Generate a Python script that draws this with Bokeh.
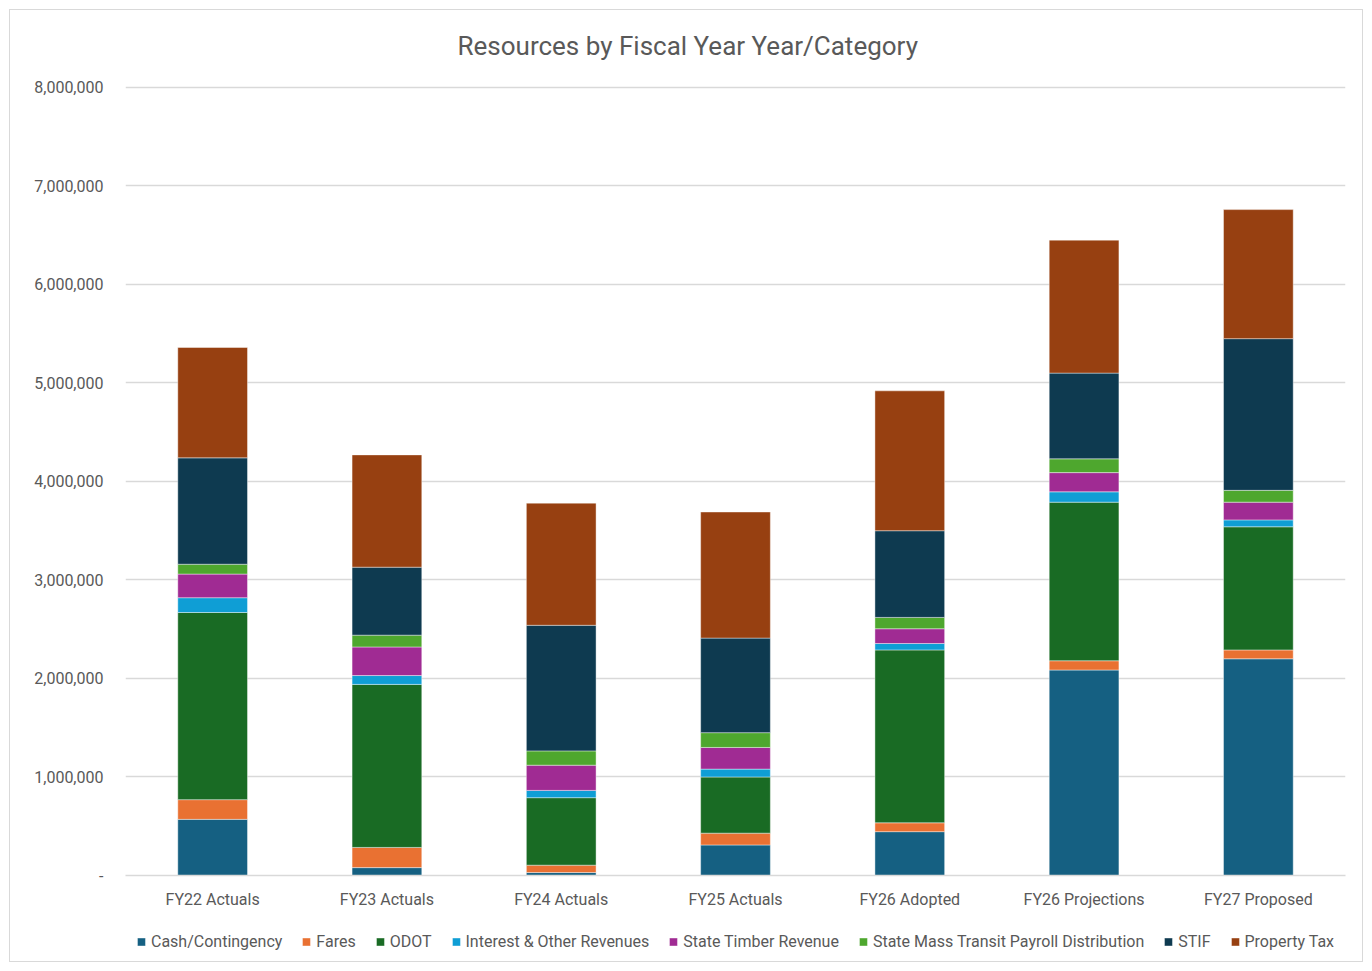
from bokeh.plotting import figure
from bokeh.layouts import column
from bokeh.models import ColumnDataSource, FactorRange, Range1d, Legend, LegendItem, FixedTicker, NumeralTickFormatter
from bokeh.embed import file_html
from bokeh.resources import INLINE

categories = ["FY22 Actuals", "FY23 Actuals", "FY24 Actuals", "FY25 Actuals",
              "FY26 Adopted", "FY26 Projections", "FY27 Proposed"]
cash = [570000, 80000, 30000, 310000, 445000, 2086000, 2200000]
fares = [200000, 205000, 75000, 120000, 90000, 94000, 90000]
odot = [1900000, 1655000, 685000, 570000, 1755000, 1610000, 1250000]
interest = [150000, 90000, 74000, 80000, 65000, 105000, 70000]
timber = [240000, 290000, 256000, 220000, 150000, 195000, 180000]
smtpd = [100000, 120000, 145000, 150000, 115000, 140000, 120000]
stif = [1080000, 690000, 1275000, 960000, 880000, 870000, 1540000]
ptax = [1120000, 1140000, 1240000, 1280000, 1420000, 1350000, 1310000]

series_keys = ["cash", "fares", "odot", "interest", "timber", "smtpd", "stif", "ptax"]
series_labels = ["Cash/Contingency", "Fares", "ODOT", "Interest & Other Revenues",
                 "State Timber Revenue", "State Mass Transit Payroll Distribution",
                 "STIF", "Property Tax"]
colors = ["#156082", "#E97132", "#196B24", "#0F9ED5", "#A02B93", "#4EA72E", "#0E3A50", "#974011"]

source = ColumnDataSource(dict(x=categories, cash=cash, fares=fares, odot=odot, interest=interest,
                               timber=timber, smtpd=smtpd, stif=stif, ptax=ptax))

TXT = "#595959"
FONT = "Roboto"

p = figure(x_range=FactorRange(*categories), y_range=Range1d(0, 8030000),
           frame_width=1220, frame_height=791, output_backend="svg", toolbar_location=None,
           title="Resources by Fiscal Year Year/Category",
           min_border_left=125, min_border_right=27, min_border_top=84, min_border_bottom=36)
p.border_fill_alpha = 0
p.background_fill_alpha = 0

p.title.align = "left"
p.title.offset = 332
p.title.text_color = TXT
p.title.text_font = FONT
p.title.text_font_size = "26px"
p.title.text_font_style = "normal"
p.title.standoff = 47

p.vbar_stack(series_keys, x="x", width=0.4, source=source, color=colors,
             line_color="white", line_width=0.6, line_alpha=0.7)

p.outline_line_color = None
p.xgrid.grid_line_color = None
p.ygrid.grid_line_color = "#d9d9d9"
p.ygrid.grid_line_width = 1.5

p.yaxis.ticker = FixedTicker(ticks=[i * 1000000 for i in range(9)])
p.yaxis.formatter = NumeralTickFormatter(format="0,0")
p.yaxis.major_label_overrides = {0: "-"}
p.yaxis.axis_line_color = None
p.yaxis.major_tick_line_color = None
p.yaxis.minor_tick_line_color = None
p.yaxis.major_label_standoff = 16
p.yaxis.major_label_text_font = FONT
p.yaxis.major_label_text_font_size = "16px"
p.yaxis.major_label_text_color = TXT

p.xaxis.axis_line_color = "#d9d9d9"
p.xaxis.axis_line_width = 1.5
p.xaxis.major_tick_line_color = None
p.xaxis.minor_tick_line_color = None
p.xaxis.major_label_standoff = 8
p.xaxis.major_label_text_font = FONT
p.xaxis.major_label_text_font_size = "16px"
p.xaxis.major_label_text_color = TXT

# legend strip: hidden copies of the same series supply the legend swatches
leg_fig = figure(width=1372, height=60, x_range=FactorRange(*categories), y_range=Range1d(0, 1),
                 output_backend="svg", toolbar_location=None,
                 x_axis_type=None, y_axis_type=None,
                 min_border_left=0, min_border_right=0, min_border_top=0, min_border_bottom=0)
leg_fig.border_fill_alpha = 0
leg_fig.background_fill_alpha = 0
leg_fig.outline_line_color = None
leg_fig.grid.visible = False
swatches = [leg_fig.vbar(x="x", top=k, width=0.4, source=source, fill_color=c,
                         line_color="white", line_width=0.6, line_alpha=0.7, visible=False)
            for k, c in zip(series_keys, colors)]

legend = Legend(items=[LegendItem(label=lab, renderers=[r]) for lab, r in zip(series_labels, swatches)],
                orientation="horizontal", location="center",
                label_text_font=FONT, label_text_font_size="16px", label_text_color=TXT,
                glyph_width=10, glyph_height=10, label_standoff=5, spacing=19,
                inactive_fill_alpha=0,
                border_line_color=None, background_fill_alpha=0, margin=0, padding=4)
leg_fig.add_layout(legend, "center")

layout = column(p, leg_fig, spacing=0)
layout.styles = {"outline": "1px solid #d9d9d9", "outline-offset": "-10px"}

open("out.html", "w").write(file_html(layout, INLINE))
